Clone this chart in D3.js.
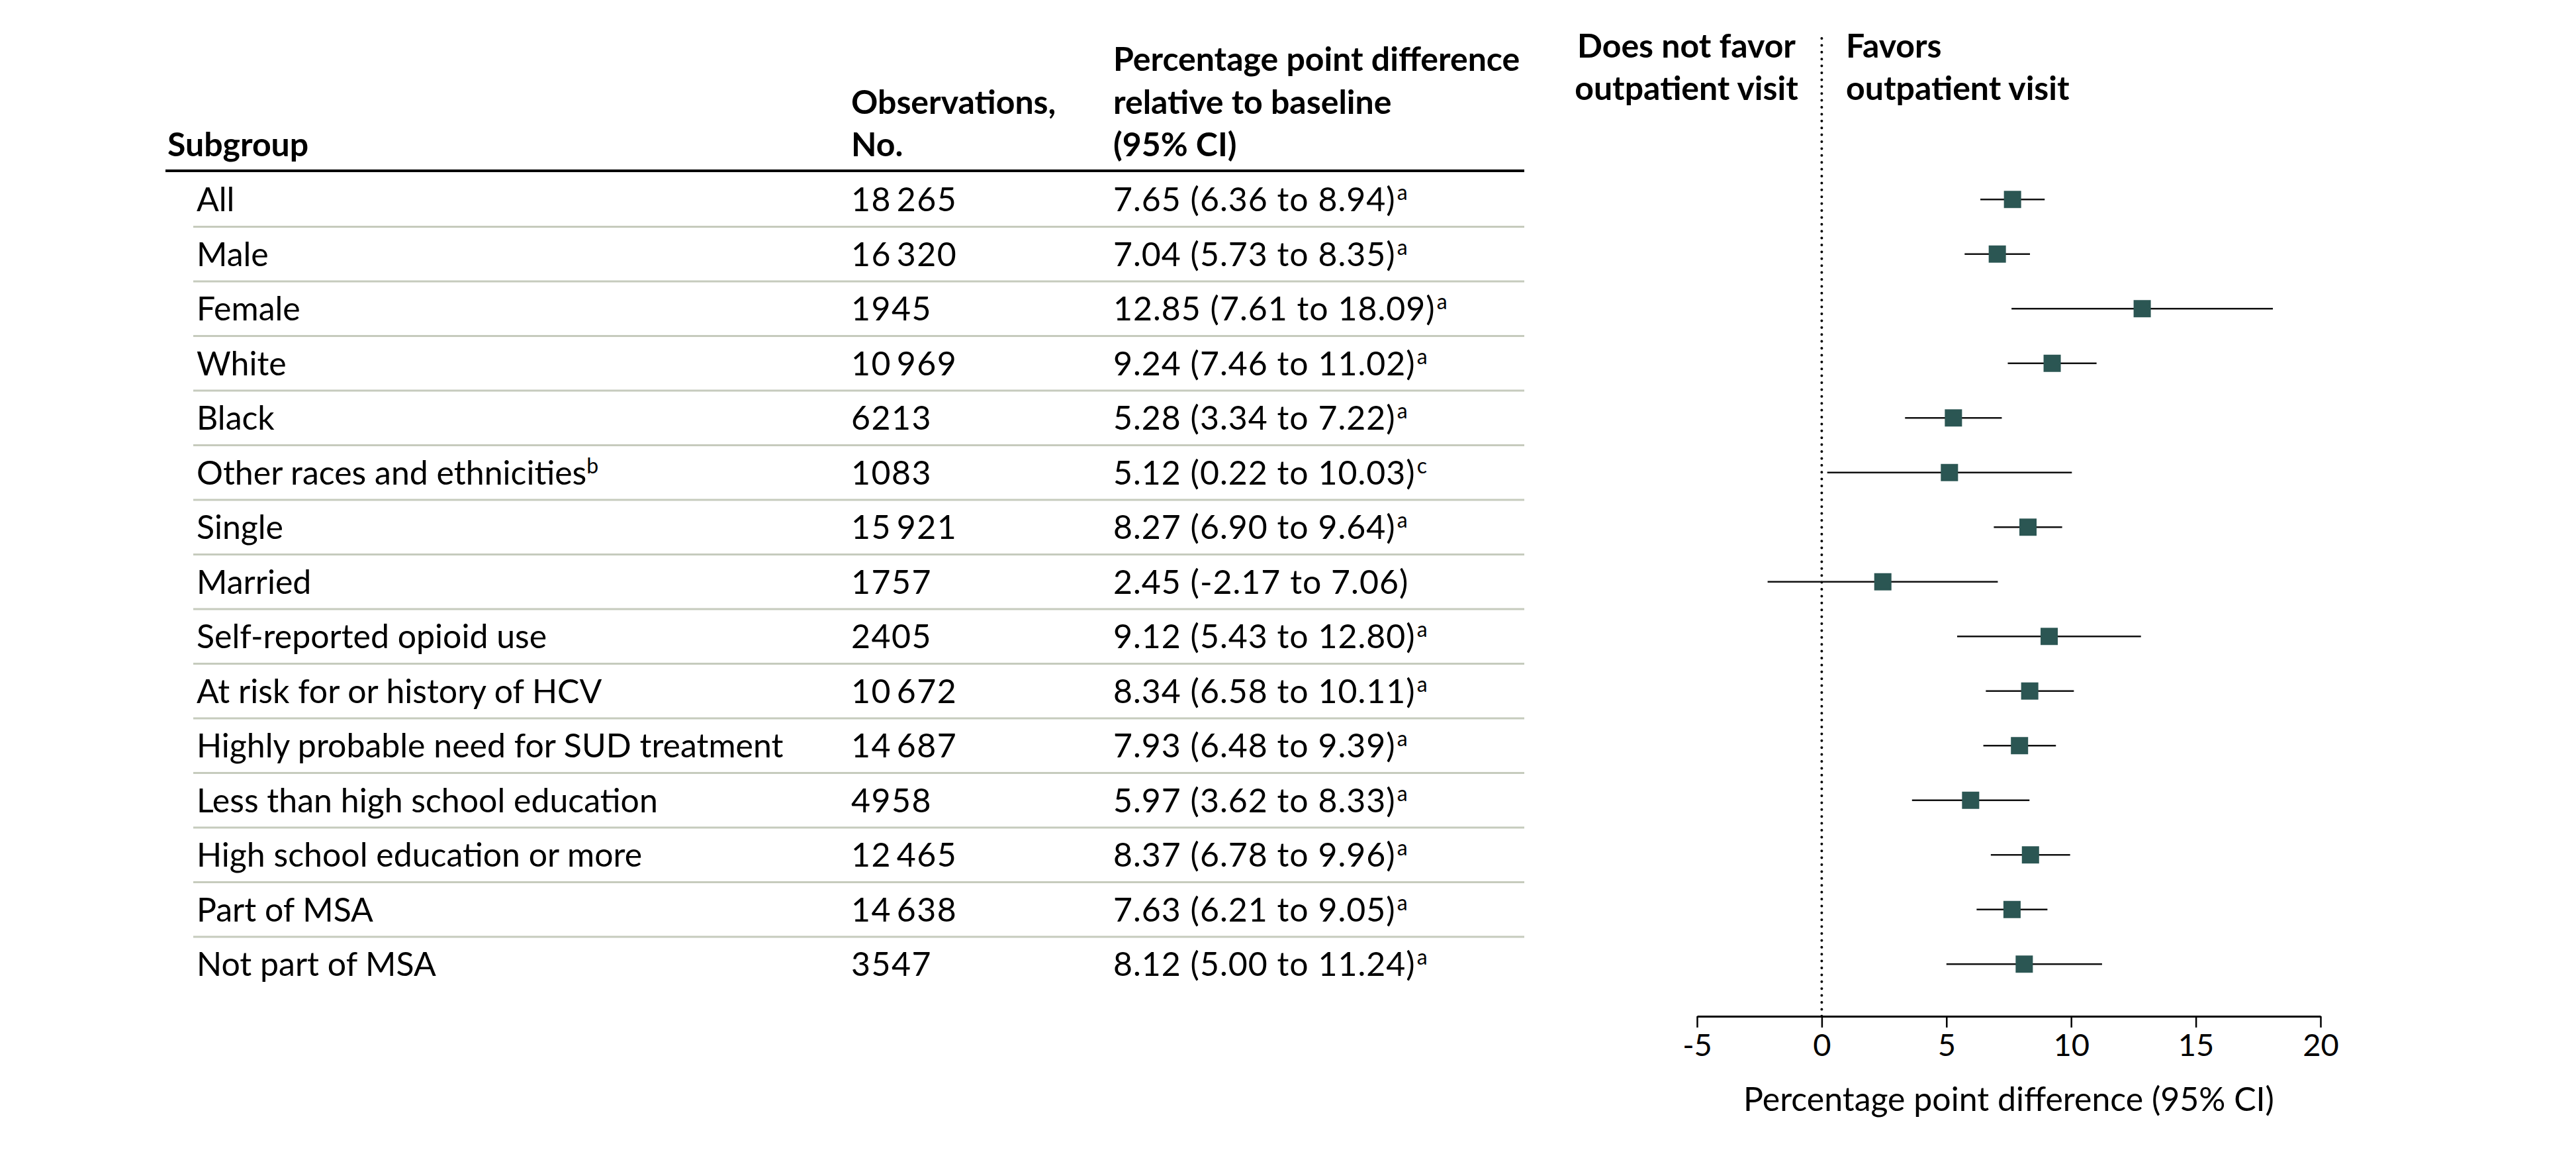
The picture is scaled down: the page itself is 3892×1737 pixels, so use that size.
<!DOCTYPE html>
<html><head><meta charset="utf-8">
<script src="https://cdn.jsdelivr.net/npm/d3@7"></script>
<style>html,body{margin:0;padding:0;background:#fff;}</style>
</head><body>
<svg id="chart" width="3892" height="1737"></svg>
<script>
const subgroups = ["All","Male","Female","White","Black","Other races and ethnicities","Single","Married","Self-reported opioid use","At risk for or history of HCV","Highly probable need for SUD treatment","Less than high school education","High school education or more","Part of MSA","Not part of MSA"];
const subgroupNotes = ["","","","","","b","","","","","","","","",""];
const observations = [18265,16320,1945,10969,6213,1083,15921,1757,2405,10672,14687,4958,12465,14638,3547];
const estimates = [7.65,7.04,12.85,9.24,5.28,5.12,8.27,2.45,9.12,8.34,7.93,5.97,8.37,7.63,8.12];
const lowerCI = [6.36,5.73,7.61,7.46,3.34,0.22,6.90,-2.17,5.43,6.58,6.48,3.62,6.78,6.21,5.00];
const upperCI = [8.94,8.35,18.09,11.02,7.22,10.03,9.64,7.06,12.80,10.11,9.39,8.33,9.96,9.05,11.24];
const ciNotes = ["a","a","a","a","a","c","a","","a","a","a","a","a","a","a"];
const xTicks = [-5,0,5,10,15,20];
const headerSubgroup = ["Subgroup"];
const headerObs = ["Observations,","No."];
const headerDiff = ["Percentage point difference","relative to baseline","(95% CI)"];
const headerLeft = ["Does not favor","outpatient visit"];
const headerRight = ["Favors","outpatient visit"];
const axisTitle = "Percentage point difference (95% CI)";

const FONT = "Lato, 'Open Sans', sans-serif";
const FS = 50;
const svg = d3.select("#chart").style("font-family", FONT);

const rows = d3.range(subgroups.length);
const y = d3.scaleBand().domain(rows).range([260, 260 + 82.5*rows.length]);
const x = d3.scaleLinear().domain([-5,20]).range([2564,3506]);

const colName = 297, colObs = 1286, colCI = 1682, tableLeft = 250, sepLeft = 292, tableRight = 2303;
const fmtN = n => n >= 10000 ? String(n).slice(0,-3) + "\u2009" + String(n).slice(-3) : String(n);
const f2 = v => v.toFixed(2);

function headerBlock(lines, xp, lastBaseline, anchor) {
  const lh = 64.5;
  lines.forEach((t,i) => {
    svg.append("text").attr("x", xp).attr("y", lastBaseline - (lines.length-1-i)*lh)
      .attr("font-size", FS).attr("font-weight", 700).attr("text-anchor", anchor||"start").text(t);
  });
}
headerBlock(headerSubgroup, 253, 236);
headerBlock(headerObs, colObs, 236);
headerBlock(headerDiff, colCI, 236);
headerBlock(headerLeft, 2548, 151, "middle");
headerBlock(headerRight, 2789, 151, "start");

svg.append("line").attr("x1", tableLeft).attr("x2", tableRight).attr("y1", 258).attr("y2", 258)
  .attr("stroke", "#000").attr("stroke-width", 4);

svg.append("g").selectAll("line").data(rows.slice(0,-1)).join("line")
  .attr("x1", sepLeft).attr("x2", tableRight)
  .attr("y1", d => y(d) + y.bandwidth()).attr("y2", d => y(d) + y.bandwidth())
  .attr("stroke", "#c6cbbd").attr("stroke-width", 3);

const base = d => y(d) + y.bandwidth()/2 + 18;
const nm = svg.append("g").selectAll("text").data(rows).join("text")
  .attr("x", colName).attr("y", base).attr("font-size", FS);
nm.append("tspan").text(d => subgroups[d]);
nm.append("tspan").attr("font-size", 32).attr("dy", -17).text(d => subgroupNotes[d]);

svg.append("g").selectAll("text").data(rows).join("text")
  .attr("x", colObs).attr("y", base).attr("font-size", FS).attr("letter-spacing", 1.5).text(d => fmtN(observations[d]));

const ci = svg.append("g").selectAll("text").data(rows).join("text")
  .attr("x", colCI).attr("y", base).attr("font-size", FS);
ci.append("tspan").attr("letter-spacing", 1).text(d => `${f2(estimates[d])} (${f2(lowerCI[d])} to ${f2(upperCI[d])})`);
ci.append("tspan").attr("font-size", 32).attr("dy", -17).attr("dx", 2).text(d => ciNotes[d]);

svg.append("line").attr("x1", x(0)).attr("x2", x(0)).attr("y1", 58).attr("y2", 1535)
  .attr("stroke", "#000").attr("stroke-width", 4).attr("stroke-linecap", "round")
  .attr("stroke-dasharray", "0 10.4");

const yc = d => y(d) + y.bandwidth()/2;
svg.append("g").selectAll("line").data(rows).join("line")
  .attr("x1", d => x(lowerCI[d])).attr("x2", d => x(upperCI[d]))
  .attr("y1", yc).attr("y2", yc).attr("stroke", "#111").attr("stroke-width", 2.5);
svg.append("g").selectAll("rect").data(rows).join("rect")
  .attr("x", d => x(estimates[d]) - 13).attr("y", d => yc(d) - 13)
  .attr("width", 26).attr("height", 26).attr("fill", "#2b5653");

const ax = svg.append("g").attr("transform", "translate(0,1535)")
  .call(d3.axisBottom(x).tickValues(xTicks).tickSize(17).tickSizeOuter(0).tickPadding(10).tickFormat(d => String(d)));
ax.select(".domain").attr("stroke", "#000").attr("stroke-width", 3);
ax.selectAll(".tick line").attr("stroke", "#000").attr("stroke-width", 2.5);
ax.selectAll(".tick text").attr("font-size", 47).attr("font-family", FONT).attr("fill", "#000");
svg.append("text").attr("x", (x(-5)+x(20))/2).attr("y", 1678).attr("text-anchor", "middle")
  .attr("font-size", FS).text(axisTitle);
</script>
</body></html>
